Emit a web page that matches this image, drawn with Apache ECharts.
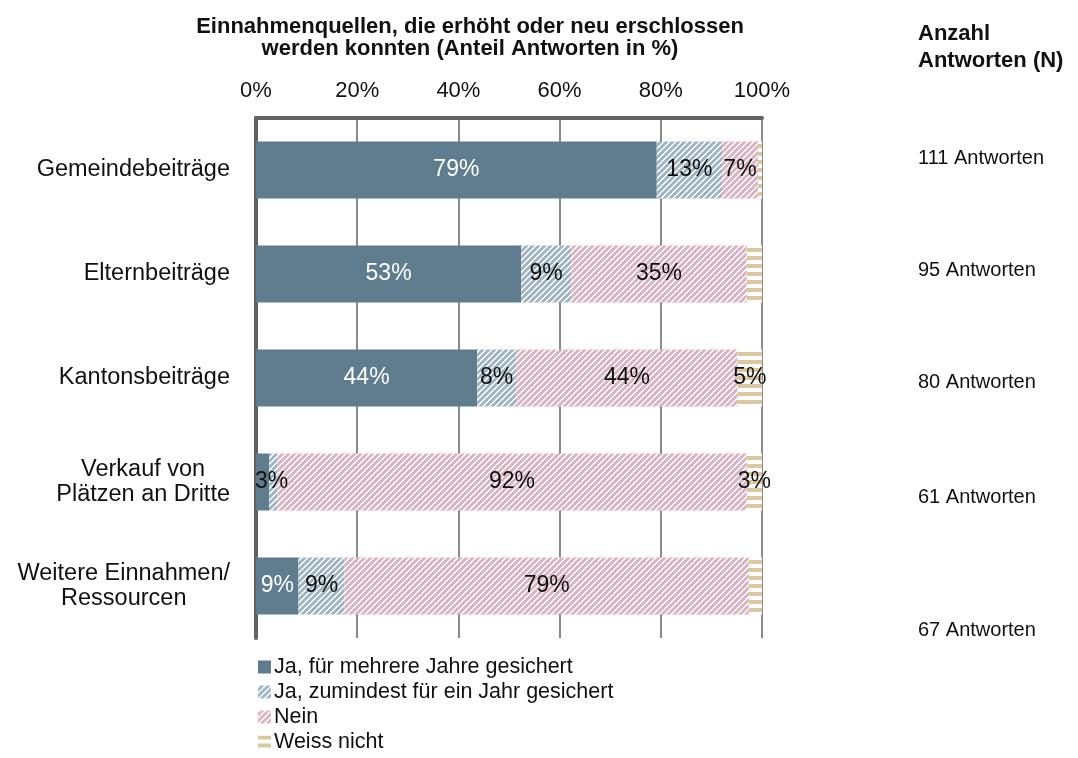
<!DOCTYPE html>
<html>
<head>
<meta charset="utf-8">
<script src="https://cdn.jsdelivr.net/npm/echarts@6/dist/echarts.min.js"></script>
<style>
  html, body { margin: 0; padding: 0; background: #fff; }
  #chart { width: 1078px; height: 758px; }
</style>
</head>
<body>
<div id="chart"></div>
<script>
const categories = ['Gemeindebeiträge', 'Elternbeiträge', 'Kantonsbeiträge', 'Verkauf von\nPlätzen an Dritte', 'Weitere Einnahmen/\nRessourcen']
const seriesNames = ['Ja, für mehrere Jahre gesichert', 'Ja, zumindest für ein Jahr gesichert', 'Nein', 'Weiss nicht']
const jaMehrere = [79.2, 52.4, 43.7, 2.6, 8.4]
const jaEinJahr = [12.9, 9.9, 7.7, 1.6, 9.1]
const nein = [7.1, 34.7, 43.8, 92.8, 79.9]
const weissNicht = [0.8, 3.0, 4.8, 3.0, 2.6]
const labelsJaMehrere = ['79%', '53%', '44%', '3%', '9%']
const labelsJaEinJahr = ['13%', '9%', '8%', '', '9%']
const labelsNein = ['7%', '35%', '44%', '92%', '79%']
const labelsWeissNicht = ['', '', '5%', '3%', '']
const answerCounts = ['111 Antworten', '95 Antworten', '80 Antworten', '61 Antworten', '67 Antworten']
const xTicks = [0, 20, 40, 60, 80, 100]

const FONT = '"Liberation Sans", Arial, sans-serif'

// striped fills drawn into small canvas tiles
function diagonalTile(base) {
  const c = document.createElement('canvas')
  c.width = 6
  c.height = 6
  const ctx = c.getContext('2d')
  for (let x = 0; x < 6; x++) {
    for (let y = 0; y < 6; y++) {
      ctx.fillStyle = (x + y) % 6 < 2 ? '#ffffff' : base
      ctx.fillRect(x, y, 1, 1)
    }
  }
  return { image: c, repeat: 'repeat' }
}

function horizontalTile(base) {
  const c = document.createElement('canvas')
  c.width = 4
  c.height = 8
  const ctx = c.getContext('2d')
  ctx.fillStyle = '#ffffff'
  ctx.fillRect(0, 0, 4, 8)
  ctx.fillStyle = base
  ctx.fillRect(0, 0, 4, 4)
  return { image: c, repeat: 'repeat' }
}

const fills = ['#5f7d8f', diagonalTile('#9fb6c6'), diagonalTile('#ddb4c3'), horizontalTile('#dcc8a0')]
const values = [jaMehrere, jaEinJahr, nein, weissNicht]
const labelTexts = [labelsJaMehrere, labelsJaEinJahr, labelsNein, labelsWeissNicht]
const answerY = [158, 270, 382, 497, 630]

const chart = echarts.init(document.getElementById('chart'))

chart.setOption({
  animation: false,
  textStyle: { fontFamily: FONT },
  grid: { left: 256, right: 316, top: 118, bottom: 120, containLabel: false },
  xAxis: {
    type: 'value',
    position: 'top',
    min: 0,
    max: 100,
    interval: 20,
    axisLine: { show: true, lineStyle: { color: '#606060', width: 4 } },
    axisTick: { show: false },
    axisLabel: {
      margin: 16,
      fontSize: 22,
      color: '#111',
      fontFamily: FONT,
      formatter: v => (xTicks.includes(v) ? v + '%' : '')
    },
    splitLine: { show: true, lineStyle: { color: '#8a8a8a', width: 2 } }
  },
  yAxis: {
    type: 'category',
    inverse: true,
    data: categories,
    axisLine: { show: true, lineStyle: { color: '#606060', width: 4 } },
    axisTick: { show: false },
    axisLabel: {
      margin: 26,
      fontSize: 23.5,
      color: '#111',
      fontFamily: FONT,
      lineHeight: 25,
      formatter: v => v.split('\n').map(l => '{c|' + l + '}').join('\n'),
      rich: { c: { align: 'center', fontSize: 23.5, fontFamily: FONT, color: '#111', lineHeight: 25 } }
    }
  },
  legend: {
    orient: 'vertical',
    left: 253,
    top: 651,
    height: 110,
    itemWidth: 13,
    itemHeight: 13,
    itemGap: 3,
    icon: 'rect',
    textStyle: { fontSize: 21.5, color: '#111', fontFamily: FONT, padding: [0, 0, 0, -2] },
    data: seriesNames
  },
  series: seriesNames.map((name, i) => ({
    name,
    type: 'bar',
    stack: 'total',
    barWidth: 57,
    itemStyle: { color: fills[i] },
    label: {
      show: true,
      position: 'inside',
      fontSize: 23,
      fontFamily: FONT,
      color: i === 0 ? '#ffffff' : '#111',
      formatter: p => labelTexts[i][p.dataIndex]
    },
    data: values[i].map((v, j) => (i === 0 && v < 5 ? { value: v, label: { offset: [9, 0], color: '#111' } } : v))
  })),
  graphic: [
    {
      type: 'text',
      x: 470,
      y: 16,
      style: {
        text: 'Einnahmenquellen, die erhöht oder neu erschlossen\nwerden konnten (Anteil Antworten in %)',
        align: 'center',
        font: 'bold 22px ' + FONT,
        lineHeight: 22,
        fill: '#111'
      }
    },
    {
      type: 'text',
      x: 918,
      y: 20,
      style: {
        text: 'Anzahl\nAntworten (N)',
        font: 'bold 22px ' + FONT,
        lineHeight: 27,
        fill: '#111'
      }
    },
    ...answerCounts.map((t, i) => ({
      type: 'text',
      x: 918,
      y: answerY[i],
      style: { text: t, font: '20px ' + FONT, fill: '#111', verticalAlign: 'middle' }
    }))
  ]
})
</script>
</body>
</html>
